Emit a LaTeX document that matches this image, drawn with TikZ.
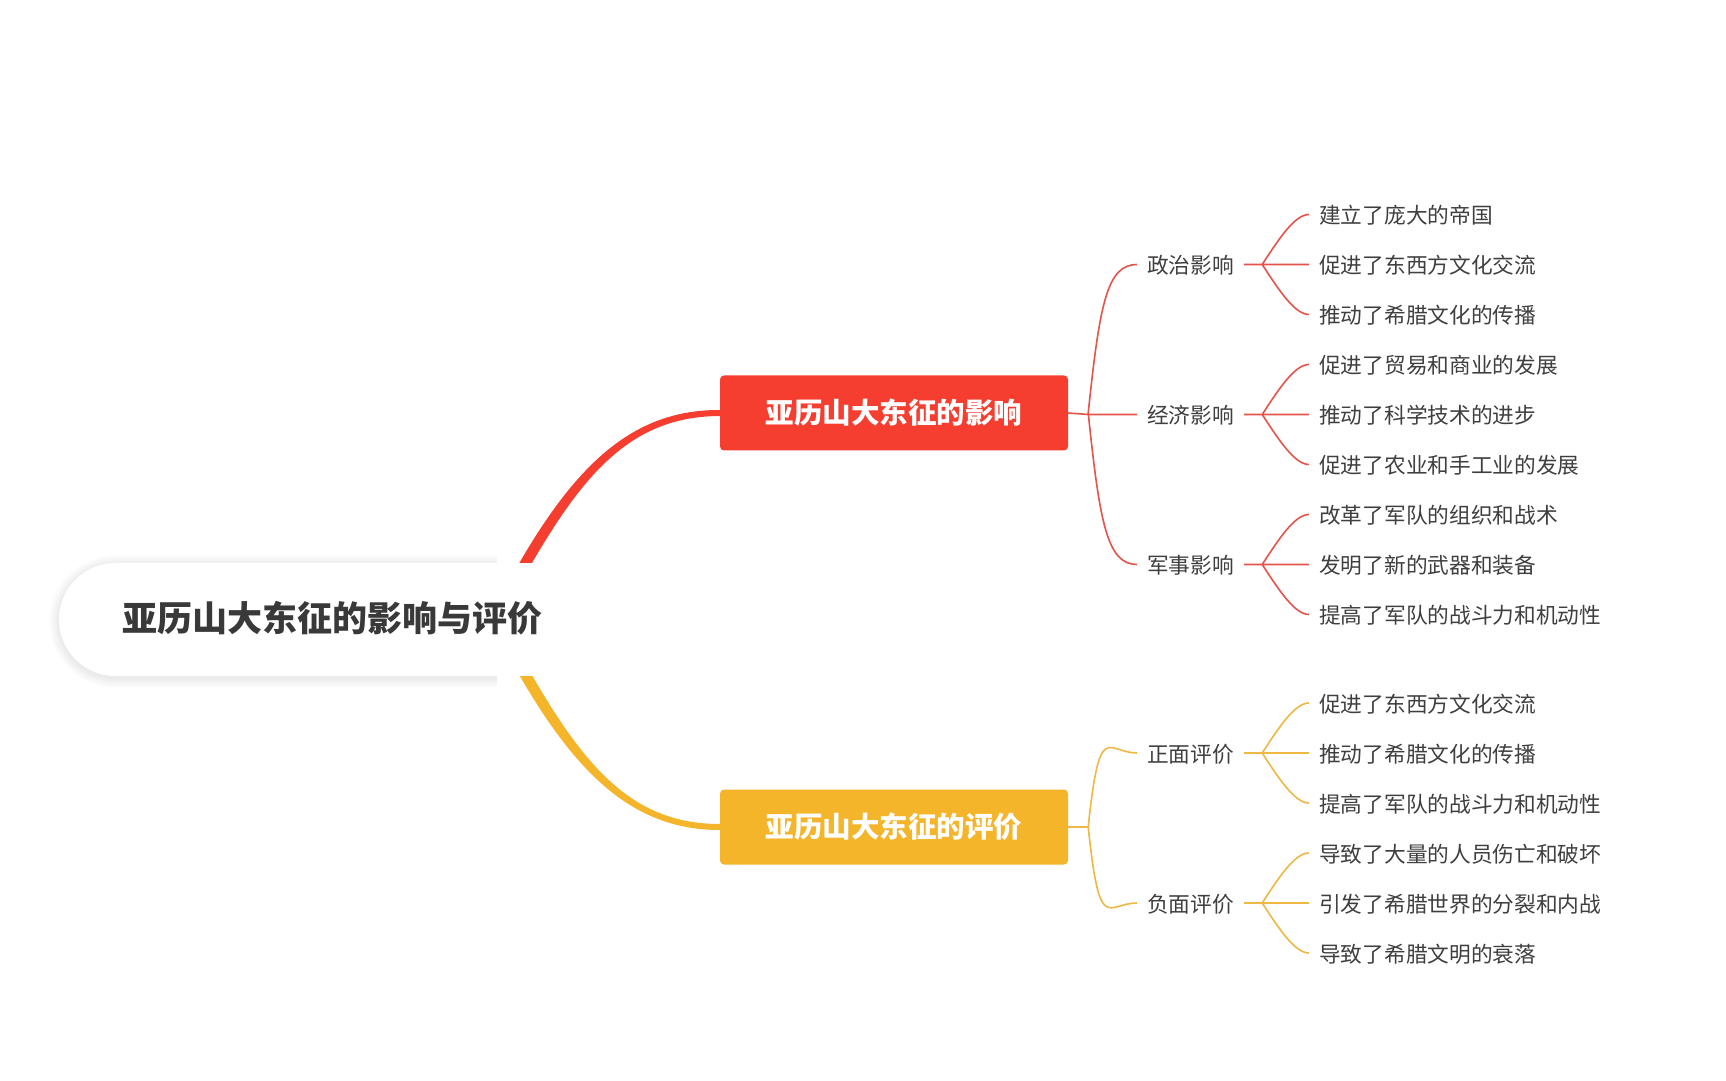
\documentclass[tikz,border=0pt]{standalone}
\usepackage{fontspec}
\newfontfamily\cjk{Noto Sans CJK SC}
\definecolor{xred}{HTML}{F53E30}
\definecolor{xyellow}{HTML}{F4B52B}
\definecolor{xredline}{HTML}{E4544A}
\definecolor{xyellowline}{HTML}{EDB843}
\definecolor{xtext}{HTML}{3F3F3F}
\tikzset{
  topic/.style={anchor=west, inner xsep=10pt, inner ysep=0pt, text height=19pt, text depth=1pt, text=xtext, font=\cjk\fontsize{21.7}{24}\selectfont},
  leaf/.style={topic},
  mainbox/.style={rounded corners=4pt, minimum width=348pt, minimum height=75pt, text=white, text height=23pt, text depth=1.5pt, font=\cjk\bfseries\fontsize{28.5}{32}\selectfont},
  rline/.style={xredline, line width=1.6pt},
  yline/.style={xyellowline, line width=1.6pt},
  branchup/.style={out=84, in=180, out distance=110pt, in distance=30pt},
  branchdown/.style={out=-84, in=180, out distance=110pt, in distance=30pt},
  leafup/.style={out=57, in=180, out distance=32pt, in distance=14pt},
  leafdown/.style={out=-57, in=180, out distance=32pt, in distance=14pt},
}
\begin{document}
\begin{tikzpicture}[x=1pt, y=1pt]
  \useasboundingbox (0,0) rectangle (1726,1080);
  \fill[white] (0,0) rectangle (1726,1080);

  \node[mainbox, fill=xred] (effect) at (894,667) {亚历山大东征的影响};
  \node[mainbox, fill=xyellow] (review) at (894,253) {亚历山大东征的评价};

  \coordinate (hub) at (495,461);
  \fill[xred] ([xshift=-6pt]hub) .. controls (559,598) and (620,670.5) .. ([yshift=3pt]effect.west)
    -- ([yshift=-3pt]effect.west) .. controls (620,663.5) and (571,592) .. ([xshift=6pt]hub) -- cycle;
  \fill[xyellow] ([xshift=-6pt]hub) .. controls (559,324) and (620,250) .. ([yshift=-3pt]review.west)
    -- ([yshift=3pt]review.west) .. controls (620,256) and (571,330) .. ([xshift=6pt]hub) -- cycle;

  \foreach \s in {1,...,10}
    \fill[black, opacity=0.008] (497,402-\s) -- (115.5,402-\s) arc[start angle=270, end angle=90, radius=56.5+\s] -- (497,515+\s) -- cycle;
  \fill[white] (497,404) -- (115.5,404) arc[start angle=270, end angle=90, radius=56.5] -- (497,517) -- cycle;
  \fill[white] (497,404) rectangle (560,517);
  \node[text=xtext!90!black, text height=28pt, text depth=2pt, font=\cjk\bfseries\fontsize{35}{40}\selectfont] (root) at (332.5,461) {亚历山大东征的影响与评价};

  \node[topic] (politics) at (1137,815.5) {政治影响};
  \node[topic] (economy) at (1137,665.5) {经济影响};
  \node[topic] (military) at (1137,515.5) {军事影响};
  \node[topic] (positive) at (1137,327) {正面评价};
  \node[topic] (negative) at (1137,177) {负面评价};

  \node[leaf] (p1) at (1309,865.5) {建立了庞大的帝国};
  \node[leaf] (p2) at (1309,815.5) {促进了东西方文化交流};
  \node[leaf] (p3) at (1309,765.5) {推动了希腊文化的传播};
  \node[leaf] (e1) at (1309,715.5) {促进了贸易和商业的发展};
  \node[leaf] (e2) at (1309,665.5) {推动了科学技术的进步};
  \node[leaf] (e3) at (1309,615.5) {促进了农业和手工业的发展};
  \node[leaf] (m1) at (1309,565.5) {改革了军队的组织和战术};
  \node[leaf] (m2) at (1309,515.5) {发明了新的武器和装备};
  \node[leaf] (m3) at (1309,465.5) {提高了军队的战斗力和机动性};
  \node[leaf] (g1) at (1309,377) {促进了东西方文化交流};
  \node[leaf] (g2) at (1309,327) {推动了希腊文化的传播};
  \node[leaf] (g3) at (1309,277) {提高了军队的战斗力和机动性};
  \node[leaf] (b1) at (1309,227) {导致了大量的人员伤亡和破坏};
  \node[leaf] (b2) at (1309,177) {引发了希腊世界的分裂和内战};
  \node[leaf] (b3) at (1309,127) {导致了希腊文明的衰落};

  \coordinate (rfork) at ([xshift=20pt]effect.east);
  \draw[rline] (effect.east) -- (rfork |- economy.west) -- (economy.west);
  \draw[rline] (rfork) to[branchup] (politics.west) (rfork) to[branchdown] (military.west);
  \coordinate (yfork) at ([xshift=20pt]review.east);
  \draw[yline] (review.east) -- (yfork);
  \draw[yline] (yfork) to[branchup] (positive.west) (yfork) to[branchdown] (negative.west);

  \coordinate (pfork) at ([xshift=18pt]politics.east);
  \draw[rline] (politics.east) -- (p2.west) (pfork) to[leafup] (p1.west) (pfork) to[leafdown] (p3.west);
  \coordinate (efork) at ([xshift=18pt]economy.east);
  \draw[rline] (economy.east) -- (e2.west) (efork) to[leafup] (e1.west) (efork) to[leafdown] (e3.west);
  \coordinate (mfork) at ([xshift=18pt]military.east);
  \draw[rline] (military.east) -- (m2.west) (mfork) to[leafup] (m1.west) (mfork) to[leafdown] (m3.west);
  \coordinate (gfork) at ([xshift=18pt]positive.east);
  \draw[yline] (positive.east) -- (g2.west) (gfork) to[leafup] (g1.west) (gfork) to[leafdown] (g3.west);
  \coordinate (bfork) at ([xshift=18pt]negative.east);
  \draw[yline] (negative.east) -- (b2.west) (bfork) to[leafup] (b1.west) (bfork) to[leafdown] (b3.west);
\end{tikzpicture}
\end{document}
